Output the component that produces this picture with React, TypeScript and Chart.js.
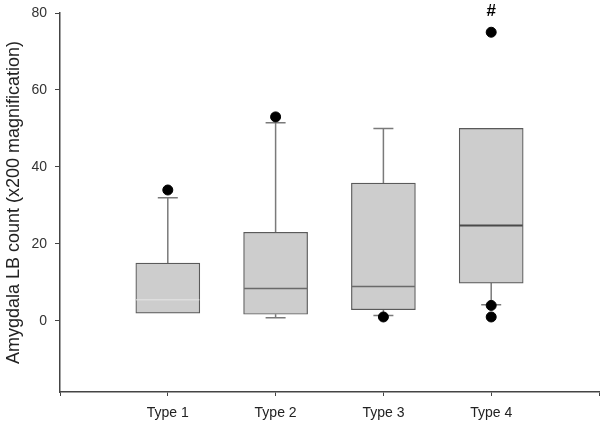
import React, { useEffect, useRef } from "react";
import { Chart, registerables } from "chart.js";

Chart.register(...registerables);

const categories = ["Type 1", "Type 2", "Type 3", "Type 4"];
const q1 = [2, 1.7, 2.9, 9.8];
const q3 = [15, 23, 35.8, 50];
const medians = [5.5, 8.4, 8.9, 24.8];
const whiskerLow = [2, 0.8, 1.4, 4.2];
const whiskerHigh = [32, 51.5, 50, 50];
const outliers = [[34], [53], [1.0], [75, 4.0, 1.0]];
const annotations = ["", "", "", "#"];
const yTicks = [0, 20, 40, 60, 80];
const yTitle = "Amygdala LB count (x200 magnification)";

const FONT = 'Arial, "Liberation Sans", Helvetica, sans-serif';

const boxPlugin = {
  id: "boxExtras",
  beforeDatasetsDraw(chart: any) {
    const { ctx, scales } = chart;
    const xs = scales.x;
    const ys = scales.y;
    ctx.save();
    ctx.strokeStyle = "#7a7a7a";
    ctx.lineWidth = 1.5;
    categories.forEach((_, i) => {
      const cx = xs.getPixelForValue(i + 1);
      const capHalf = 10;
      const segs: [number, number][] = [];
      if (whiskerHigh[i] > q3[i]) segs.push([q3[i], whiskerHigh[i]]);
      if (whiskerLow[i] < q1[i]) segs.push([q1[i], whiskerLow[i]]);
      segs.forEach(([a, b]) => {
        const ya = ys.getPixelForValue(a);
        const yb = ys.getPixelForValue(b);
        ctx.beginPath();
        ctx.moveTo(cx, ya);
        ctx.lineTo(cx, yb);
        ctx.moveTo(cx - capHalf, yb);
        ctx.lineTo(cx + capHalf, yb);
        ctx.stroke();
      });
    });
    ctx.restore();
  },
  afterDatasetsDraw(chart: any) {
    const { ctx, scales } = chart;
    const xs = scales.x;
    const ys = scales.y;
    const medColors = ["#dedede", "#6a6a6a", "#6a6a6a", "#4a4a4a"];
    ctx.save();
    categories.forEach((_, i) => {
      const cx = xs.getPixelForValue(i + 1);
      const half = 31.5;
      const my = ys.getPixelForValue(medians[i]);
      ctx.strokeStyle = medColors[i];
      ctx.lineWidth = i === 3 ? 2 : 1.5;
      ctx.beginPath();
      ctx.moveTo(cx - half, my);
      ctx.lineTo(cx + half, my);
      ctx.stroke();
      if (annotations[i]) {
        const top = Math.max(...outliers[i], whiskerHigh[i]);
        ctx.fillStyle = "#000";
        ctx.font = "bold 17px " + FONT;
        ctx.textAlign = "center";
        ctx.textBaseline = "middle";
        ctx.fillText(annotations[i], cx, ys.getPixelForValue(top) - 21);
      }
    });
    ctx.restore();
  },
};

export default function App() {
  const ref = useRef<HTMLCanvasElement | null>(null);
  useEffect(() => {
    if (!ref.current) return;
    const boxData = categories.map((_, i) => ({ x: i + 1, y: [q1[i], q3[i]] }));
    const outlierData: { x: number; y: number }[] = [];
    outliers.forEach((arr, i) => arr.forEach((v) => outlierData.push({ x: i + 1, y: v })));
    const chart = new Chart(ref.current, {
      type: "bar",
      data: {
        datasets: [
          {
            type: "bar",
            data: boxData as any,
            backgroundColor: "#cdcdcd",
            borderColor: "#5a5a5a",
            borderWidth: 1.2,
            borderSkipped: false,
            barThickness: 64,
            order: 2,
          } as any,
          {
            type: "scatter",
            data: outlierData,
            backgroundColor: "#000",
            borderColor: "#000",
            pointRadius: 5,
            pointHoverRadius: 5,
            showLine: false,
            order: 1,
          } as any,
        ],
      },
      options: {
        animation: false,
        responsive: true,
        maintainAspectRatio: false,
        layout: { autoPadding: false, padding: { top: 13, right: 1, left: 0, bottom: 0 } },
        plugins: { legend: { display: false }, tooltip: { enabled: false } },
        scales: {
          x: {
            type: "linear",
            min: 0,
            max: 5,
            offset: false,
            afterBuildTicks: (scale: any) => {
              scale.ticks = [0, 1, 2, 3, 4, 5].map((v) => ({ value: v }));
            },
            afterFit: (scale: any) => {
              scale.height = 29;
              scale.paddingLeft = 0;
              scale.paddingRight = 0;
            },
            ticks: {
              autoSkip: false,
              maxRotation: 0,
              padding: 9,
              color: "#222",
              font: { family: FONT, size: 14 },
              callback: (v: any) => (v >= 1 && v <= 4 ? categories[v - 1] : ""),
            },
            grid: {
              offset: false,
              drawOnChartArea: false,
              drawTicks: true,
              tickLength: 4,
              color: "#444",
              lineWidth: 1,
            },
            border: { display: true, color: "#444", width: 1.5 },
          },
          y: {
            type: "linear",
            min: -18.5,
            max: 80,
            afterBuildTicks: (scale: any) => {
              scale.ticks = yTicks.map((v) => ({ value: v }));
            },
            afterFit: (scale: any) => {
              scale.width = 60;
              scale.paddingTop = 0;
              scale.paddingBottom = 0;
            },
            ticks: {
              padding: 8,
              color: "#333",
              font: { family: FONT, size: 14 },
            },
            grid: {
              drawOnChartArea: false,
              drawTicks: true,
              tickLength: 5,
              color: "#444",
              lineWidth: 1,
            },
            border: { display: true, color: "#444", width: 1.5 },
            title: {
              display: true,
              text: yTitle,
              color: "#222",
              font: { family: FONT, size: 18 },
              padding: { top: 3, bottom: 0 },
            },
          },
        },
      },
      plugins: [boxPlugin],
    } as any);
    return () => chart.destroy();
  }, []);
  return (
    <div style={{ position: "fixed", left: 0, top: 0, width: 600, height: 421, background: "#fff" }}>
      <canvas ref={ref} />
    </div>
  );
}
